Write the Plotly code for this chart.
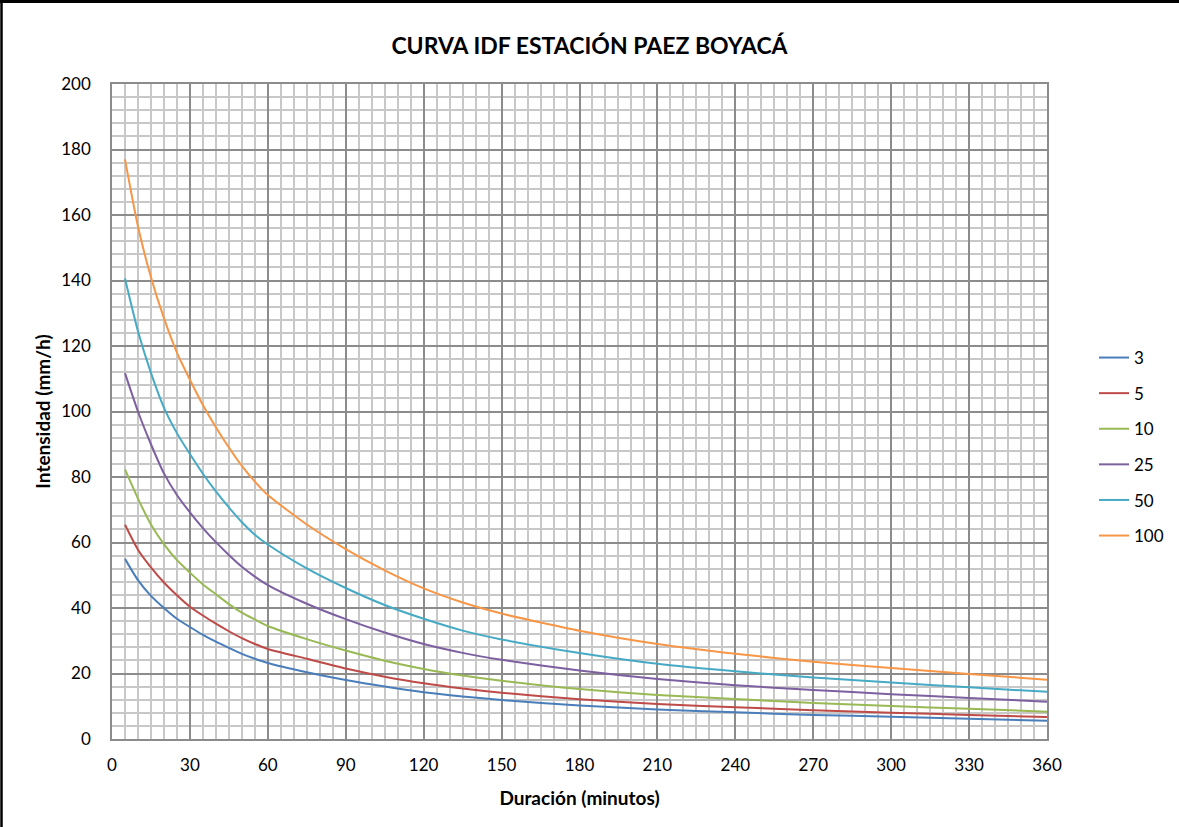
import plotly.graph_objects as go

durations = [5, 10, 15, 20, 25, 30, 35, 40, 45, 50, 55, 60, 75, 90, 105, 120, 135, 150, 180, 210, 240, 270, 300, 330, 360]

i_3 = [55.0, 48.5, 43.7, 40.0, 36.7, 34.2, 31.8, 29.7, 27.8, 26.0, 24.5, 23.2, 20.4, 18.0, 16.0, 14.3, 13.0, 11.9, 10.25, 9.0, 8.15, 7.35, 6.8, 6.2, 5.6]
i_5 = [65.4, 57.8, 52.4, 47.8, 43.9, 40.4, 37.7, 35.2, 32.9, 30.8, 29.0, 27.5, 24.5, 21.5, 19.0, 17.0, 15.4, 14.1, 12.15, 10.7, 9.7, 8.8, 8.05, 7.35, 6.7]
i_10 = [82.3, 73.4, 65.5, 59.5, 54.6, 50.8, 47.2, 44.2, 41.2, 38.6, 36.5, 34.5, 30.5, 27.0, 23.9, 21.4, 19.4, 17.8, 15.25, 13.45, 12.2, 11.0, 10.1, 9.2, 8.35]
i_25 = [111.7, 100.0, 90.0, 81.1, 74.5, 69.2, 64.4, 60.1, 56.2, 52.6, 49.6, 47.0, 41.3, 36.6, 32.5, 29.0, 26.3, 24.2, 20.9, 18.3, 16.4, 14.95, 13.7, 12.55, 11.4]
i_50 = [140.6, 124.5, 111.8, 101.2, 93.4, 87.0, 81.0, 75.6, 70.7, 66.2, 62.4, 59.4, 52.1, 46.1, 40.9, 36.7, 33.1, 30.4, 26.25, 22.95, 20.65, 18.75, 17.25, 15.8, 14.4]
i_100 = [177.0, 156.5, 141.0, 128.5, 118.0, 109.7, 102.0, 95.2, 89.0, 83.4, 78.6, 74.5, 65.5, 58.0, 51.5, 46.0, 41.7, 38.3, 33.05, 29.0, 26.0, 23.6, 21.65, 19.85, 18.1]

series_names = ["3", "5", "10", "25", "50", "100"]
series_values = [i_3, i_5, i_10, i_25, i_50, i_100]
colors = ["#4A7EBB", "#BE4B48", "#98B954", "#7D60A0", "#46AAC5", "#F79646"]

x_ticks = list(range(0, 361, 30))
y_ticks = list(range(0, 201, 20))

FONT = "Lato"

fig = go.Figure()
for name, vals, col in zip(series_names, series_values, colors):
    fig.add_trace(go.Scatter(
        x=durations, y=vals, mode="lines", name=name, legendgroup=name,
        line=dict(color=col, width=2, shape="spline", smoothing=0.6),
    ))

W, H = 1179, 827
L, R, T, B = 112, 132, 84, 88
pw = W - L - R
ph = H - T - B

def px_x(p):
    return (p - L) / pw

def px_y(p):
    return (H - B - p) / ph

fig.update_layout(
    width=W, height=H,
    margin=dict(l=L, r=R, t=T, b=B, autoexpand=False),
    paper_bgcolor="white", plot_bgcolor="white",
    font=dict(family=FONT, size=17, color="black"),
    title=dict(text="<b>CURVA IDF ESTACIÓN PAEZ BOYACÁ</b>", x=0.5, xanchor="center",
               y=1 - 46 / H, yanchor="middle", font=dict(size=23, family=FONT)),
    showlegend=True,
    legend=dict(x=px_x(1094), y=px_y(447), xanchor="left", yanchor="middle",
                tracegroupgap=10.5, font=dict(size=17, family=FONT),
                bgcolor="rgba(0,0,0,0)"),
    xaxis=dict(
        range=[0, 360], tickvals=x_ticks, ticktext=[str(v) for v in x_ticks],
        showgrid=True, gridcolor="#8C8C8C", gridwidth=1.5,
        minor=dict(dtick=5, tick0=0, showgrid=True, gridcolor="#C8C8C8", gridwidth=1.5),
        showline=True, linecolor="#8C8C8C", linewidth=1.5, mirror=True,
        ticks="", ticklabelstandoff=10, zeroline=False,
        title=dict(text="<b>Duración (minutos)</b>", standoff=18, font=dict(size=19, family=FONT)),
        automargin=False, fixedrange=True,
    ),
    yaxis=dict(
        range=[0, 200], tickvals=y_ticks, ticktext=[str(v) for v in y_ticks],
        showgrid=True, gridcolor="#8C8C8C", gridwidth=1.5,
        minor=dict(dtick=4, tick0=0, showgrid=True, gridcolor="#C8C8C8", gridwidth=1.5),
        showline=True, linecolor="#8C8C8C", linewidth=1.5, mirror=True,
        ticks="", ticklabelstandoff=16, zeroline=False,
        title=dict(text="<b>Intensidad (mm/h)</b>", standoff=6, font=dict(size=19, family=FONT)),
        automargin=False, fixedrange=True,
    ),
)

# outer chart border visible at top and left
fig.add_shape(type="line", xref="paper", yref="paper",
              x0=px_x(0), x1=px_x(W), y0=px_y(1.5), y1=px_y(1.5),
              line=dict(color="black", width=3))
fig.add_shape(type="line", xref="paper", yref="paper",
              x0=px_x(1.5), x1=px_x(1.5), y0=px_y(0), y1=px_y(H),
              line=dict(color="black", width=2.5))

fig.write_html(
    "out.html",
    config={"displayModeBar": False},
    post_script="document.body.style.margin='0px'; document.body.style.overflow='hidden';",
)
